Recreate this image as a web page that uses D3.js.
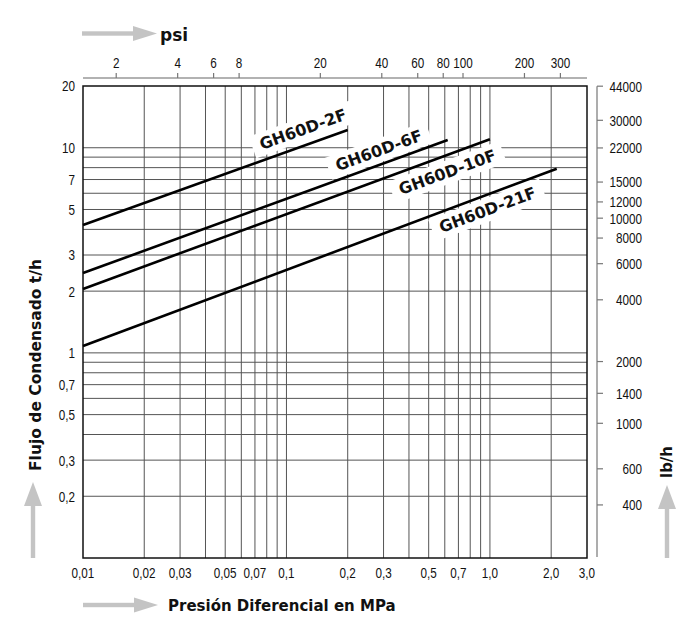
<!DOCTYPE html>
<html>
<head>
<meta charset="utf-8">
<script src="https://cdn.jsdelivr.net/npm/d3@7/dist/d3.min.js"></script>
<style>
  html, body { margin: 0; padding: 0; background: #fff; }
  svg { display: block; }
  .tick-label { font-family: 'Liberation Sans', Arial, sans-serif; font-size: 15px; fill: #111; }
  .title { font-family: 'DejaVu Sans', sans-serif; font-weight: bold; fill: #111; }
</style>
</head>
<body>
<svg id="chart" width="700" height="638"></svg>
<script>
// ---- data ----
const mpaTicks  = [0.01, 0.02, 0.03, 0.05, 0.07, 0.1, 0.2, 0.3, 0.5, 0.7, 1.0, 2.0, 3.0];
const mpaLabels = ["0,01","0,02","0,03","0,05","0,07","0,1","0,2","0,3","0,5","0,7","1,0","2,0","3,0"];
const mpaGrid   = [0.02,0.03,0.04,0.05,0.06,0.07,0.08,0.09,0.1,0.2,0.3,0.4,0.5,0.6,0.7,0.8,0.9,1.0,2.0];

const flowTicks  = [20, 10, 7, 5, 3, 2, 1, 0.7, 0.5, 0.3, 0.2];
const flowLabels = ["20","10","7","5","3","2","1","0,7","0,5","0,3","0,2"];
const flowGrid   = [0.2,0.3,0.4,0.5,0.6,0.7,0.8,0.9,1,2,3,4,5,6,7,8,9,10];

const psiTicks = [2, 4, 6, 8, 20, 40, 60, 80, 100, 200, 300];
const lbTicks  = [44000, 30000, 22000, 15000, 12000, 10000, 8000, 6000, 4000, 2000, 1400, 1000, 600, 400];

const models        = ["GH60D-2F", "GH60D-6F", "GH60D-10F", "GH60D-21F"];
const pressureStart = [0.01, 0.01, 0.01, 0.01];
const pressureEnd   = [0.2, 0.62, 1.0, 2.13];
const flowStart     = [4.2, 2.45, 2.05, 1.08];
const flowEnd       = [12.2, 10.9, 11.0, 7.9];
const labelPressure = [0.128, 0.3, 0.58, 0.92];

// ---- layout ----
const L = 83, R = 587, T = 86, B = 558;
const labelOffset = [16, 14, -16, -14];
const NARROW = 0.78;

const svg = d3.select("#chart");
const x = d3.scaleLog().domain([0.01, 3.0]).range([L, R]);
const y = d3.scaleLog().domain([0.1, 20]).range([B, T]);
const xPsi = d3.scaleLog().domain([1.375, 405]).range([L, R]);
const yLb = d3.scaleLog().domain([0.1 * 2204.6, 20 * 2204.6]).range([B, T]);

// grid
svg.append("g").selectAll("line").data(flowGrid).join("line")
  .attr("x1", L).attr("x2", R).attr("y1", d => y(d)).attr("y2", d => y(d))
  .attr("stroke", "#555").attr("stroke-width", 1);
svg.append("g").selectAll("line").data(mpaGrid).join("line")
  .attr("y1", T).attr("y2", B).attr("x1", d => x(d)).attr("x2", d => x(d))
  .attr("stroke", "#555").attr("stroke-width", 1);

// frame
svg.append("rect").attr("x", L).attr("y", T).attr("width", R - L).attr("height", B - T)
  .attr("fill", "none").attr("stroke", "#111").attr("stroke-width", 1.5);

// labels for lines (white background)
const lineData = models.map((m, i) => ({
  name: m,
  pts: [[pressureStart[i], flowStart[i]], [pressureEnd[i], flowEnd[i]]],
  lp: labelPressure[i], off: labelOffset[i]
}));

const labelG = svg.append("g");
lineData.forEach(d => {
  const [p0, p1] = d.pts;
  const X0 = x(p0[0]), Y0 = y(p0[1]), X1 = x(p1[0]), Y1 = y(p1[1]);
  const a = Math.atan2(Y1 - Y0, X1 - X0);
  const t = (x(d.lp) - X0) / (X1 - X0);
  const px = X0 + t * (X1 - X0), py = Y0 + t * (Y1 - Y0);
  const nx = Math.sin(a), ny = -Math.cos(a);
  const cx = px + d.off * nx, cy = py + d.off * ny;
  const g = labelG.append("g").attr("transform", `translate(${cx},${cy}) rotate(${a * 180 / Math.PI})`);
  const rect = g.append("rect").attr("fill", "#fff");
  const txt = g.append("text").attr("class", "title").attr("font-size", 16)
    .attr("text-anchor", "middle").attr("dy", "0.36em").text(d.name);
  const bb = txt.node().getBBox();
  rect.attr("x", bb.x - 8).attr("y", bb.y - 2).attr("width", bb.width + 16).attr("height", bb.height + 4);
});

// series lines
const lineGen = d3.line().x(p => x(p[0])).y(p => y(p[1]));
svg.append("g").selectAll("path").data(lineData).join("path")
  .attr("d", d => lineGen(d.pts)).attr("fill", "none")
  .attr("stroke", "#000").attr("stroke-width", 2.6);

// narrow text helper
function narrowText(sel, xf, yf) {
  return sel.attr("transform", (d, i) => `translate(${xf(d, i)},${yf(d, i)}) scale(${NARROW},1)`);
}

// bottom axis labels
narrowText(svg.append("g").selectAll("text").data(mpaTicks).join("text")
  .attr("class", "tick-label").attr("text-anchor", "middle").text((d, i) => mpaLabels[i]),
  d => x(d), () => 578);

// left axis labels
narrowText(svg.append("g").selectAll("text").data(flowTicks).join("text")
  .attr("class", "tick-label").attr("dy", "0.36em")
  .attr("text-anchor", "end").text((d, i) => flowLabels[i]),
  () => 75, d => y(d));

// top psi axis
const topG = svg.append("g");
topG.append("line").attr("x1", L).attr("x2", R).attr("y1", 78).attr("y2", 78)
  .attr("stroke", "#999").attr("stroke-width", 1.6);
topG.selectAll("line.tk").data(psiTicks).join("line").attr("class", "tk")
  .attr("x1", d => xPsi(d)).attr("x2", d => xPsi(d)).attr("y1", 73).attr("y2", 78)
  .attr("stroke", "#777").attr("stroke-width", 1.2);
narrowText(topG.selectAll("text").data(psiTicks).join("text")
  .attr("class", "tick-label").attr("text-anchor", "middle").text(d => d),
  d => xPsi(d), () => 68);

// right lb/h axis
const AX = 597;
const rG = svg.append("g");
rG.append("line").attr("x1", AX).attr("x2", AX).attr("y1", yLb(44000)).attr("y2", 557)
  .attr("stroke", "#999").attr("stroke-width", 1.6);
rG.selectAll("line.tk").data(lbTicks).join("line").attr("class", "tk")
  .attr("x1", AX).attr("x2", AX + 6).attr("y1", d => yLb(d)).attr("y2", d => yLb(d))
  .attr("stroke", "#777").attr("stroke-width", 1.2);
narrowText(rG.selectAll("text").data(lbTicks).join("text")
  .attr("class", "tick-label").attr("dy", "0.36em")
  .attr("text-anchor", "end").text(d => d),
  () => 642, d => yLb(d));

// titles
svg.append("text").attr("class", "title").attr("font-size", 17)
  .attr("x", 160).attr("y", 41).text("psi");
svg.append("text").attr("class", "title").attr("font-size", 15)
  .attr("x", 168).attr("y", 611).text("Presión Diferencial en MPa");
svg.append("text").attr("class", "title").attr("font-size", 15.5)
  .attr("text-anchor", "middle")
  .attr("transform", "translate(41,365) rotate(-90)").text("Flujo de Condensado t/h");
svg.append("text").attr("class", "title").attr("font-size", 15)
  .attr("text-anchor", "middle")
  .attr("transform", "translate(672,462) rotate(-90)").text("lb/h");

// arrows
const gray = "#c4c4c4";
function hArrow(x0, x1, yc) {
  svg.append("rect").attr("x", x0).attr("y", yc - 2.2).attr("width", x1 - 22 - x0).attr("height", 4.4).attr("fill", gray);
  svg.append("path").attr("d", `M${x1 - 24},${yc - 7.5}L${x1},${yc}L${x1 - 24},${yc + 7.5}Z`).attr("fill", gray);
}
function vArrow(xc, yTip, y1) {
  svg.append("rect").attr("x", xc - 2.2).attr("y", yTip + 22).attr("width", 4.4).attr("height", y1 - yTip - 22).attr("fill", gray);
  svg.append("path").attr("d", `M${xc - 9},${yTip + 24}L${xc},${yTip}L${xc + 9},${yTip + 24}Z`).attr("fill", gray);
}
hArrow(82, 157, 33.5);
hArrow(83, 158, 605);
vArrow(33, 482, 558);
vArrow(667, 485, 558);
</script>
</body>
</html>
